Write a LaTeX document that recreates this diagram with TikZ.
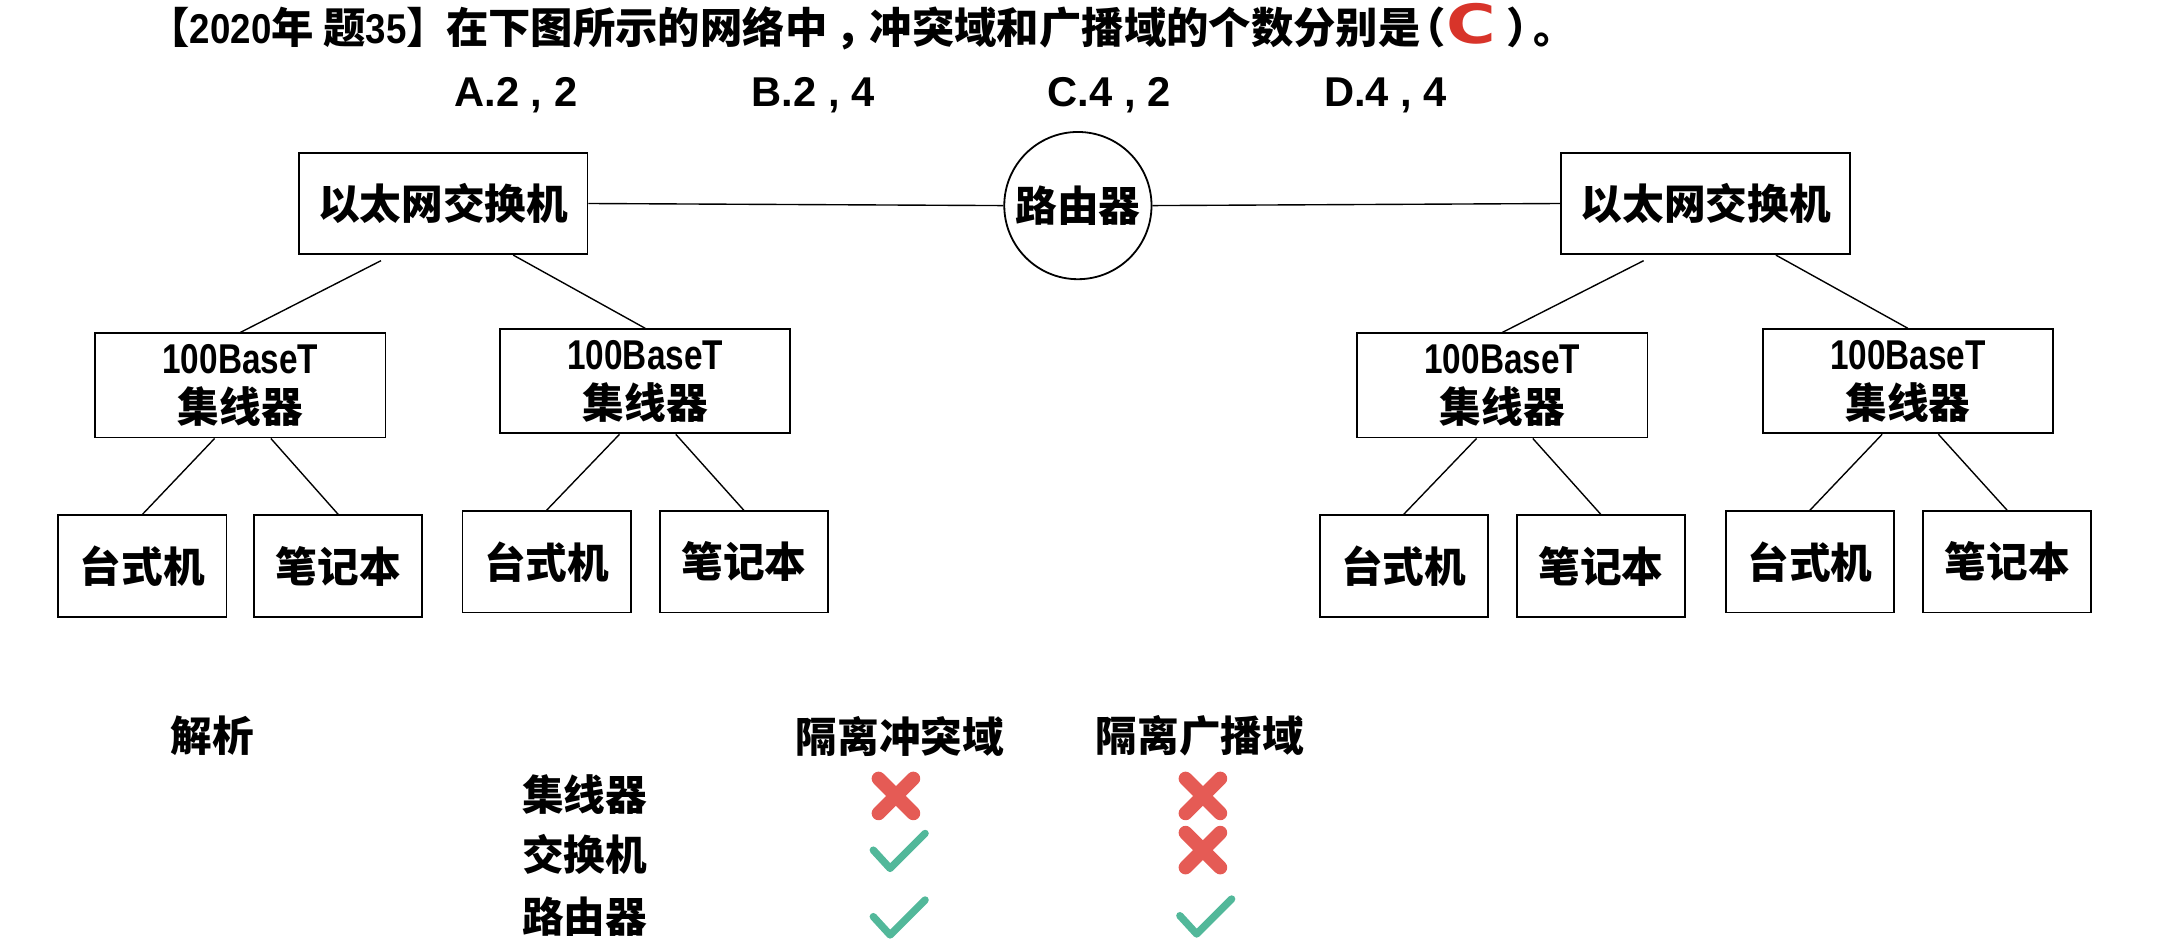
\documentclass[tikz,border=0pt]{standalone}
\usepackage{fontspec}
\usepackage{graphicx}
\usetikzlibrary{calc}
\newfontfamily\cjk{Noto Sans CJK SC}
\newfontfamily\latn{Liberation Sans}
\newfontfamily\heavy{DejaVu Sans}
\definecolor{cred}{HTML}{D8342A}
\definecolor{xred}{HTML}{E55B55}
\definecolor{okgreen}{HTML}{52B89A}
\newcommand\ttlnum[1]{\scalebox{0.88}[1]{\latn\bfseries\fontsize{30}{32}\selectfont #1}}
\newcommand\hubnum[1]{\scalebox{0.8}[1]{\latn\bfseries #1}}
\tikzset{
  crossmark/.pic={\draw[xred, line width=10pt, line cap=round] (-12.5,-12.5) -- (12.5,12.5) (-12.5,12.5) -- (12.5,-12.5);},
  checkmark/.pic={\draw[okgreen, line width=5.3pt, line cap=round, line join=round] (-12.1,-13.2) -- (0,0) -- (25.2,-25.2);}
}
\begin{document}
\begin{tikzpicture}[x=1pt,y=-1pt,
  every node/.style={inner sep=0pt, font=\cjk\bfseries\fontsize{30}{35}\selectfont},
  ttl/.style={anchor=base west, font=\cjk\bfseries\fontsize{30.5}{33}\selectfont},
  box/.style={draw, line width=1.3pt, minimum width=208pt, minimum height=73pt},
  hubbox/.style={draw, line width=1.3pt, minimum width=209pt, minimum height=75pt, align=center},
  leaf/.style={draw, line width=1.3pt, minimum width=121pt, minimum height=73pt},
  router/.style={draw, circle, line width=1.3pt, minimum size=106pt},
  conn/.style={line width=1pt},
  opt/.style={anchor=base west, font=\latn\bfseries\fontsize{30}{32}\selectfont}]
\useasboundingbox (0,0) rectangle (1568,681);

% title
\node[ttl] (titleA) at (106,31) {【\ttlnum{2020}年 题\ttlnum{35}】};
\node[ttl] (titleB) at (321,31) {在下图所示的网络中{\kern.2em，\kern-.2em}冲突域和广播域的个数分别是};
\node[ttl] (lp) at (1010,31) {（};
\node[anchor=base, font=\heavy\bfseries\fontsize{39}{42}\selectfont, text=cred] (ans) at (1059,31) {\scalebox{1.25}[1]{C}};
\node[ttl] (rp) at (1084,31) {）};
\node[ttl] (stop) at (1104,31) {。};

\node[opt] (optA) at (327,77) {A.2 , 2};
\node[opt] (optB) at (541,77) {B.2 , 4};
\node[opt] (optC) at (754,77) {C.4 , 2};
\node[opt] (optD) at (953,77) {D.4 , 4};

% network
\node[box] (sw1) at (319,146.5) {以太网交换机};
\node[router] (rt) at (776,148) {路由器};
\node[box] (sw2) at (1228,146.5) {以太网交换机};

\node[hubbox] (h1) at (173,277.5) {\hubnum{100BaseT}\\集线器};
\node[hubbox] (h2) at (464.5,274.5) {\hubnum{100BaseT}\\集线器};
\node[hubbox] (h3) at (1081.5,277.5) {\hubnum{100BaseT}\\集线器};
\node[hubbox] (h4) at (1373.5,274.5) {\hubnum{100BaseT}\\集线器};

\node[leaf] (l1) at (102.5,407.5) {台式机};
\node[leaf] (l2) at (243.5,407.5) {笔记本};
\node[leaf] (l3) at (393.5,404.5) {台式机};
\node[leaf] (l4) at (535.5,404.5) {笔记本};
\node[leaf] (l5) at (1010.5,407.5) {台式机};
\node[leaf] (l6) at (1152.5,407.5) {笔记本};
\node[leaf] (l7) at (1303,404.5) {台式机};
\node[leaf] (l8) at (1445,404.5) {笔记本};

\draw[conn] (sw1.east) -- (rt.west);
\draw[conn] (rt.east) -- (sw2.west);
\draw[conn] ($(sw1.south)+(-44.7,4)$) -- (h1.north);
\draw[conn] ($(sw1.south)+(50.5,0)$) -- (h2.north);
\draw[conn] ($(sw2.south)+(-44.7,4)$) -- (h3.north);
\draw[conn] ($(sw2.south)+(50.5,0)$) -- (h4.north);
\foreach \h/\a/\b in {h1/l1/l2, h2/l3/l4, h3/l5/l6, h4/l7/l8}{
  \draw[conn] ($(\h.south)+(-18.5,0)$) -- (\a.north);
  \draw[conn] ($(\h.south)+(22,0)$) -- (\b.north);
}

% analysis table
\node (jx) at (153,530) {解析};
\node (hd1) at (648,530) {隔离冲突域};
\node (hd2) at (864,530) {隔离广播域};
\node (r1) at (421,572) {集线器};
\node (r2) at (421,615) {交换机};
\node (r3) at (421,660) {路由器};
\pic at (645,573) {crossmark};
\pic at (866,573) {crossmark};
\pic at (866,612) {crossmark};
\pic at (640.8,625.2) {checkmark};
\pic at (640.8,673.1) {checkmark};
\pic at (861.5,672.4) {checkmark};
\end{tikzpicture}
\end{document}
